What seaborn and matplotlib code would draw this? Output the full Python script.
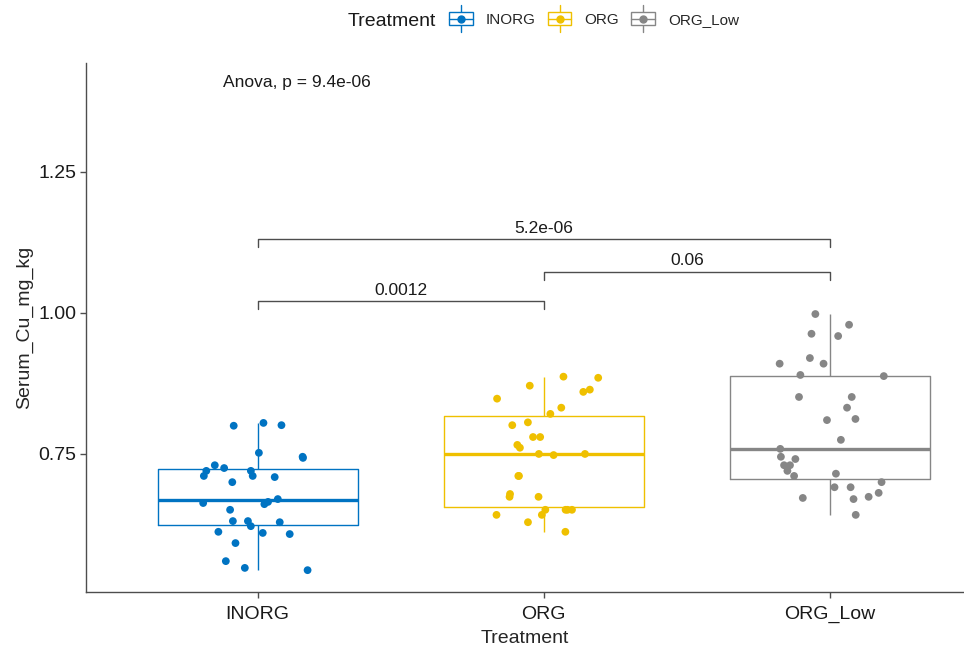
import numpy as np
import pandas as pd
import seaborn as sns
import matplotlib.pyplot as plt
from matplotlib.legend_handler import HandlerBase
from matplotlib.patches import Rectangle
from matplotlib.lines import Line2D

# ==== data
treatments = ["INORG", "ORG", "ORG_Low"]
colors = ["#0073C2", "#EFC000", "#868686"]

inorg = [0.805, 0.801, 0.800, 0.752, 0.745, 0.743, 0.730, 0.725, 0.720, 0.720,
         0.711, 0.711, 0.709, 0.700, 0.670, 0.665, 0.663, 0.661, 0.651, 0.631,
         0.631, 0.629, 0.622, 0.612, 0.610, 0.608, 0.592, 0.560, 0.548, 0.544]
org = [0.885, 0.887, 0.864, 0.860, 0.871, 0.848, 0.832, 0.821, 0.806, 0.801,
       0.780, 0.780, 0.766, 0.761, 0.750, 0.750, 0.748, 0.711, 0.711, 0.674,
       0.679, 0.674, 0.651, 0.642, 0.642, 0.629, 0.651, 0.651, 0.651, 0.612]
org_low = [0.998, 0.979, 0.963, 0.959, 0.920, 0.910, 0.910, 0.890, 0.888, 0.851,
           0.851, 0.832, 0.812, 0.810, 0.775, 0.759, 0.745, 0.741, 0.730, 0.730,
           0.720, 0.715, 0.711, 0.700, 0.691, 0.691, 0.670, 0.672, 0.681, 0.674,
           0.642]

# pairwise comparisons (group a, group b, bracket height, label)
comp_a = [0, 1, 0]
comp_b = [1, 2, 2]
comp_y = [1.021, 1.073, 1.131]
comp_p = ["0.0012", "0.06", "5.2e-06"]
anova_label = "Anova, p = 9.4e-06"

data = pd.DataFrame({
    "Treatment": ["INORG"] * len(inorg) + ["ORG"] * len(org) + ["ORG_Low"] * len(org_low),
    "Serum_Cu_mg_kg": inorg + org + org_low,
})

sns.set_style("white")
plt.rcParams['font.family'] = ['Liberation Sans', 'DejaVu Sans']

fig = plt.figure(figsize=(9.64, 6.46), dpi=100)
ax = fig.add_axes([0.0892, 0.0836, 0.9108, 0.8189])

pal = dict(zip(treatments, colors))
sns.boxplot(data=data, x="Treatment", y="Serum_Cu_mg_kg", hue="Treatment",
            order=treatments, hue_order=treatments, palette=pal, fill=False,
            width=0.7, linewidth=1.0, showcaps=False, showfliers=False,
            medianprops={"linewidth": 2.4}, legend=False, ax=ax)
np.random.seed(3)
sns.stripplot(data=data, x="Treatment", y="Serum_Cu_mg_kg", hue="Treatment",
              order=treatments, hue_order=treatments, palette=pal, jitter=0.2,
              size=5.6, linewidth=0, legend=False, zorder=3, ax=ax)

# ==== brackets with p values
tick_h = 0.014
for a, b, y, p in zip(comp_a, comp_b, comp_y, comp_p):
    ax.plot([a, a, b, b], [y - tick_h, y, y, y - tick_h], color="#4d4d4d", lw=1.0)
    ax.text((a + b) / 2, y + 0.006, p, ha="center", va="bottom", fontsize=12.5, color="#1a1a1a")

ax.text(-0.12, 1.409, anova_label, ha="left", va="center", fontsize=12.5, color="#1a1a1a")

ax.set_xlim(-0.6, 2.469)
ax.set_ylim(0.5053, 1.443)
ax.set_yticks([0.75, 1.00, 1.25])
ax.set_yticklabels(["0.75", "1.00", "1.25"])
ax.set_xlabel("Treatment", fontsize=14, labelpad=5)
ax.set_ylabel("Serum_Cu_mg_kg", fontsize=14, labelpad=4)
ax.tick_params(axis="both", labelsize=14, length=4, width=1, color="#4d4d4d",
               labelcolor="#1a1a1a", pad=3, direction="out", bottom=True, left=True)
ax.tick_params(axis="x", pad=6)
for s in ["top", "right"]:
    ax.spines[s].set_visible(False)
for s in ["left", "bottom"]:
    ax.spines[s].set_color("#4d4d4d")
    ax.spines[s].set_linewidth(1.0)


# ==== legend with little boxplot keys
class BoxKey(HandlerBase):
    def create_artists(self, legend, orig_handle, xdescent, ydescent,
                       width, height, fontsize, trans):
        c = orig_handle.get_color()
        x0, y0 = -xdescent, -ydescent
        cy = y0 + height / 2
        cx = x0 + width / 2
        bh = height * 1.15
        box = Rectangle((x0, cy - bh / 2), width, bh, facecolor="white",
                        edgecolor=c, lw=1.0, transform=trans)
        wh = Line2D([cx, cx], [cy - height * 1.2, cy + height * 1.2], color=c, lw=1.0, transform=trans)
        med = Line2D([x0, x0 + width], [cy, cy], color=c, lw=1.0, transform=trans)
        dot = Line2D([cx], [cy], marker="o", markersize=5, color=c, lw=0, transform=trans)
        return [wh, box, med, dot]


handles = [Line2D([], [], color=c) for c in colors]
fig.text(348 / 964, 1 - 21 / 646, "Treatment", fontsize=14, ha="left", va="center", color="#1a1a1a")
fig.legend(handles, treatments, handler_map={Line2D: BoxKey()}, ncol=3,
           loc="center left", bbox_to_anchor=(449 / 964, 1 - 20 / 646),
           frameon=False, fontsize=11, handlelength=1.55, handleheight=0.75,
           handletextpad=0.85, columnspacing=0.8, borderpad=0, borderaxespad=0)

plt.savefig("out.png", dpi=100)
